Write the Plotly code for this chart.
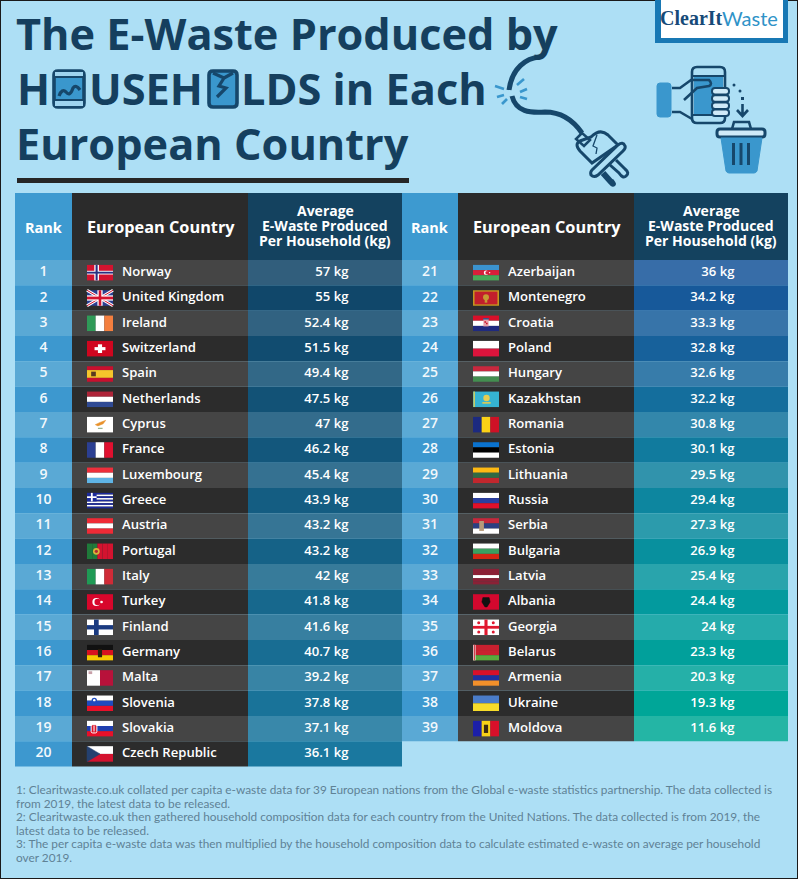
import plotly.graph_objects as go

# ---------- data ----------
RANKS_LEFT = list(range(1, 21))
COUNTRIES_LEFT = ["Norway", "United Kingdom", "Ireland", "Switzerland", "Spain", "Netherlands", "Cyprus",
                  "France", "Luxembourg", "Greece", "Austria", "Portugal", "Italy", "Turkey", "Finland",
                  "Germany", "Malta", "Slovenia", "Slovakia", "Czech Republic"]
VALUES_LEFT = [57, 55, 52.4, 51.5, 49.4, 47.5, 47, 46.2, 45.4, 43.9, 43.2, 43.2, 42, 41.8, 41.6, 40.7,
               39.2, 37.8, 37.1, 36.1]
RANKS_RIGHT = list(range(21, 40))
COUNTRIES_RIGHT = ["Azerbaijan", "Montenegro", "Croatia", "Poland", "Hungary", "Kazakhstan", "Romania",
                   "Estonia", "Lithuania", "Russia", "Serbia", "Bulgaria", "Latvia", "Albania", "Georgia",
                   "Belarus", "Armenia", "Ukraine", "Moldova"]
VALUES_RIGHT = [36, 34.2, 33.3, 32.8, 32.6, 32.2, 30.8, 30.1, 29.5, 29.4, 27.3, 26.9, 25.4, 24.4, 24,
                23.3, 20.3, 19.3, 11.6]
HEADER_RANK = "Rank"
HEADER_COUNTRY = "European Country"
HEADER_VALUE = ["Average", "E-Waste Produced", "Per Household (kg)"]
TITLE_LINE1 = "The E-Waste Produced by"
TITLE_LINE3 = "European Country"
FOOTNOTES = [
    "1: Clearitwaste.co.uk collated per capita e-waste data for 39 European nations from the Global e-waste statistics partnership. The data collected is",
    "from 2019, the latest data to be released.",
    "2: Clearitwaste.co.uk then gathered household composition data for each country from the United Nations. The data collected is from 2019, the",
    "latest data to be released.",
    "3: The per capita e-waste data was then multiplied by the household composition data to calculate estimated e-waste on average per household",
    "over 2019.",
]

# ---------- style ----------
BG = "#addff5"; NAVY = "#153f5e"; ICON = "#16476b"; BLUE = "#3a97cd"
RED = "#d3132f"; WHITE = "#ffffff"; DBLUE = "#2b3f92"; GREEN = "#2f9a58"; YEL = "#f5c52b"
FLAGS = {
    "Norway": ("h", [RED]), "United Kingdom": ("h", [DBLUE]), "Ireland": ("v", ["#2f9a58", WHITE, "#f47f3f"]),
    "Switzerland": ("h", ["#d0061f"]), "Spain": ("h", ["#c8102e", YEL, YEL, "#c8102e"]),
    "Netherlands": ("h", ["#ae2438", WHITE, "#2f4a94"]), "Cyprus": ("h", [WHITE]),
    "France": ("v", [DBLUE, WHITE, "#e0102f"]), "Luxembourg": ("h", ["#ee2f3c", WHITE, "#5fb4e6"]),
    "Greece": ("h", ["#1c2a9c", WHITE] * 4 + ["#1c2a9c"]), "Austria": ("h", ["#ef2b36", WHITE, "#ef2b36"]),
    "Portugal": ("v", ["#1f7a3a", "#1f7a3a", RED, RED, RED]), "Italy": ("v", ["#1f9a55", WHITE, "#cf2b37"]),
    "Turkey": ("h", ["#d8062b"]), "Finland": ("h", [WHITE]), "Germany": ("h", ["#111111", "#d8121f", "#f7c900"]),
    "Malta": ("v", [WHITE, "#b8123a"]), "Slovenia": ("h", [WHITE, "#1f4bc0", "#e8102a"]),
    "Slovakia": ("h", [WHITE, "#1f3fb0", "#e8102a"]), "Czech Republic": ("h", [WHITE, "#d4122f"]),
    "Azerbaijan": ("h", ["#3b93cf", "#d8203a", "#49a858"]), "Montenegro": ("h", ["#c4961f"]),
    "Croatia": ("h", ["#d8102a", WHITE, "#1f2a80"]), "Poland": ("h", [WHITE, "#dc143c"]),
    "Hungary": ("h", ["#c8283e", WHITE, "#438e50"]), "Kazakhstan": ("h", ["#35b3d2"]),
    "Romania": ("v", ["#1c2a80", "#fbd116", "#ce1126"]), "Estonia": ("h", ["#0a72ce", "#000000", WHITE]),
    "Lithuania": ("h", ["#fdb913", "#2f6a44", "#c1272d"]), "Russia": ("h", [WHITE, "#2a3fa0", "#e0102a"]),
    "Serbia": ("h", ["#c6283c", "#2c3f82", WHITE]), "Bulgaria": ("h", [WHITE, "#3aa060", "#d62612"]),
    "Latvia": ("h", ["#8a2136", "#8a2136", WHITE, "#8a2136", "#8a2136"]), "Albania": ("h", ["#d4082e"]),
    "Georgia": ("h", [WHITE]), "Belarus": ("h", ["#c8202f", "#c8202f", "#5aa83c"]),
    "Armenia": ("h", ["#d9102a", "#1f2fa0", "#f2902a"]), "Ukraine": ("h", ["#4a7cc8", "#f7dc2a"]),
    "Moldova": ("v", ["#1c1fa8", "#f7d116", "#d8102a"]),
}

shapes = []

def rect(x0, y0, x1, y1, fill, line=None, lw=0):
    shapes.append(dict(type="rect", xref="x", yref="y", x0=x0, y0=y0, x1=x1, y1=y1, fillcolor=fill, layer="below",
                       line=dict(color=line or fill, width=lw)))

def ell(cx, cy, rx, ry, fill, line=None, lw=0):
    shapes.append(dict(type="circle", xref="x", yref="y", x0=cx - rx, y0=cy - ry, x1=cx + rx, y1=cy + ry,
                       fillcolor=fill, layer="below", line=dict(color=line or fill, width=lw)))

def path(d, color=ICON, lw=2.5, fill="rgba(0,0,0,0)"):
    shapes.append(dict(type="path", xref="x", yref="y", path=d, fillcolor=fill, layer="below",
                       line=dict(color=color, width=lw)))

def rrect(x0, y0, x1, y1, r, color=ICON, lw=2.5, fill="rgba(0,0,0,0)"):
    d = (f"M{x0+r},{y0} L{x1-r},{y0} Q{x1},{y0} {x1},{y0+r} L{x1},{y1-r} Q{x1},{y1} {x1-r},{y1} "
         f"L{x0+r},{y1} Q{x0},{y1} {x0},{y1-r} L{x0},{y0+r} Q{x0},{y0} {x0+r},{y0} Z")
    path(d, color, lw, fill)

def mix(a, b, t):
    ca = [int(a[i:i + 2], 16) for i in (1, 3, 5)]
    cb = [int(b[i:i + 2], 16) for i in (1, 3, 5)]
    return "#%02x%02x%02x" % tuple(round(p + (q - p) * t) for p, q in zip(ca, cb))

def ramp(anchors, t):
    for (t0, c0), (t1, c1) in zip(anchors, anchors[1:]):
        if t <= t1:
            return mix(c0, c1, (t - t0) / (t1 - t0))
    return anchors[-1][1]

VAL_RAMP_L = [(0, "#0f4467"), (1, "#1a789f")]
VAL_RAMP_R = [(0, "#17559a"), (0.17, "#17619b"), (0.45, "#0f829f"), (0.75, "#029c9e"), (1, "#00a996")]

TOP = 260.0; ROW = 25.33
HEAD_TOP = 193
TABLES = [
    dict(x=(15, 72, 248, 402), ranks=RANKS_LEFT, names=COUNTRIES_LEFT, vals=VALUES_LEFT, ramp=VAL_RAMP_L),
    dict(x=(402, 458, 634, 788), ranks=RANKS_RIGHT, names=COUNTRIES_RIGHT, vals=VALUES_RIGHT, ramp=VAL_RAMP_R),
]

def draw_flag(name, x, y):
    W, H = 26, 15.5
    kind, cols = FLAGS[name]
    n = len(cols)
    for i, c in enumerate(cols):
        if kind == "h":
            rect(x, y + H * i / n, x + W, y + H * (i + 1) / n, c)
        else:
            rect(x + W * i / n, y, x + W * (i + 1) / n, y + H, c)
    fx = lambda u: x + W * u
    fy = lambda v: y + H * v
    def fr(u0, v0, u1, v1, c):
        rect(fx(u0), fy(v0), fx(u1), fy(v1), c)
    def fe(u, v, r, c):
        ell(fx(u), fy(v), r, r, c)
    if name == "Norway":
        fr(0.28, 0, 0.46, 1, WHITE); fr(0, 0.38, 1, 0.62, WHITE); fr(0.33, 0, 0.41, 1, "#2a2f80"); fr(0, 0.44, 1, 0.56, "#2a2f80")
    elif name == "United Kingdom":
        path(f"M{x},{y} L{x+W},{y+H} M{x+W},{y} L{x},{y+H}", WHITE, 3)
        path(f"M{x},{y} L{x+W},{y+H} M{x+W},{y} L{x},{y+H}", "#d3132f", 1)
        fr(0.4, 0, 0.6, 1, WHITE); fr(0, 0.33, 1, 0.67, WHITE); fr(0.45, 0, 0.55, 1, "#d3132f"); fr(0, 0.41, 1, 0.59, "#d3132f")
    elif name == "Switzerland":
        fr(0.42, 0.22, 0.58, 0.78, WHITE); fr(0.29, 0.4, 0.71, 0.6, WHITE)
    elif name == "Spain":
        fr(0.16, 0.35, 0.34, 0.65, "#5a3a20")
    elif name == "Cyprus":
        path(f"M{fx(.32)},{fy(.5)} L{fx(.5)},{fy(.36)} L{fx(.72)},{fy(.22)} L{fx(.62)},{fy(.45)} L{fx(.42)},{fy(.58)} Z", "#e8912a", 0.5, "#e8912a")
        fr(0.42, 0.7, 0.6, 0.78, "#9ab58f")
    elif name == "Greece":
        fr(0, 0, 0.37, 0.55, "#1c2a9c"); fr(0.15, 0, 0.22, 0.55, WHITE); fr(0, 0.22, 0.37, 0.33, WHITE)
    elif name == "Portugal":
        fe(0.36, 0.5, 3.4, "#d7b23a"); fe(0.36, 0.5, 1.6, "#b02a30")
    elif name == "Turkey":
        fe(0.36, 0.5, 4, WHITE); fe(0.41, 0.5, 3.2, "#d8062b"); fe(0.56, 0.5, 1.3, WHITE)
    elif name == "Finland":
        fr(0.27, 0, 0.45, 1, "#1a3a80"); fr(0, 0.36, 1, 0.64, "#1a3a80")
    elif name == "Germany":
        fr(0.42, 0.28, 0.58, 0.8, "#2a2210")
    elif name == "Malta":
        fr(0.06, 0.07, 0.2, 0.25, "#c8a0a8")
    elif name == "Slovenia":
        fe(0.28, 0.32, 2.7, "#1f4bc0"); fe(0.28, 0.3, 1.2, WHITE)
    elif name == "Slovakia":
        rrect(fx(.16), fy(.25), fx(.38), fy(.78), 1.5, WHITE, 1, "#d8142a"); fr(0.25, 0.32, 0.29, 0.68, WHITE)
    elif name == "Czech Republic":
        path(f"M{x},{y} L{fx(.5)},{fy(.5)} L{x},{y+H} Z", "#24406f", 0.5, "#24406f")
    elif name == "Azerbaijan":
        fe(0.5, 0.5, 2.2, WHITE); fe(0.54, 0.5, 1.7, "#d8203a"); fe(0.64, 0.5, 0.7, WHITE)
    elif name == "Montenegro":
        fr(0.06, 0.09, 0.94, 0.91, "#c21f2c"); fe(0.5, 0.45, 3, "#c79a33"); fr(0.45, 0.5, 0.55, 0.8, "#c79a33")
    elif name == "Croatia":
        fr(0.4, 0.22, 0.6, 0.7, "#e6a0a8"); fr(0.44, 0.36, 0.5, 0.46, "#c8102a"); fr(0.5, 0.46, 0.56, 0.56, "#c8102a"); fr(0.39, 0.16, 0.61, 0.26, "#35578c")
    elif name == "Kazakhstan":
        fr(0.02, 0, 0.07, 1, "#e9d04a"); fe(0.52, 0.42, 3.2, "#e6cc50"); fr(0.36, 0.68, 0.68, 0.78, "#e6cc50")
    elif name == "Serbia":
        fr(0.24, 0.18, 0.42, 0.82, "#b69a7a")
    elif name == "Albania":
        path(f"M{fx(.38)},{fy(.22)} L{fx(.62)},{fy(.22)} L{fx(.66)},{fy(.5)} L{fx(.54)},{fy(.82)} L{fx(.46)},{fy(.82)} L{fx(.34)},{fy(.5)} Z", "#111111", 0.5, "#111111")
    elif name == "Georgia":
        fr(0.44, 0, 0.56, 1, "#e0182f"); fr(0, 0.41, 1, 0.59, "#e0182f")
        for u, v in [(.22, .2), (.78, .2), (.22, .8), (.78, .8)]:
            fe(u, v, 1.5, "#e0182f")
    elif name == "Belarus":
        fr(0, 0, 0.1, 1, "#e8dede"); fr(0.03, 0, 0.07, 1, "#c8202f")
    elif name == "Moldova":
        fr(0.42, 0.25, 0.58, 0.78, "#3a2a10")

# background + frame
rect(0, 0, 798, 879, BG, "#1a1a1a", 2)
# title rule
rect(17, 178, 409, 183, "#262626")

text_layers = {"rank": ([], [], []), "name": ([], [], []), "val": ([], [], [])}
for tb in TABLES:
    xr, xc, xv, xe = tb["x"]
    rect(xr, HEAD_TOP, xc, TOP, "#3d9ad0")
    rect(xc, HEAD_TOP, xv, TOP, "#2b2b2b")
    rect(xv, HEAD_TOP, xe, TOP, "#14425f")
    n = len(tb["ranks"])
    for i, (rk, nm, vl) in enumerate(zip(tb["ranks"], tb["names"], tb["vals"])):
        y0 = TOP + ROW * i; y1 = y0 + ROW
        odd = rk % 2 == 1
        base = ramp(tb["ramp"], i / (n - 1))
        rect(xr, y0, xc, y1, "#5aa9d5" if odd else "#3d98cf")
        rect(xc, y0, xv, y1, "#454545" if odd else "#2c2c2c")
        rect(xv, y0, xe, y1, mix(base, "#ffffff", 0.14) if odd else base)
        draw_flag(nm, xc + 15, (y0 + y1) / 2 - 7.75)
        ym = (y0 + y1) / 2
        text_layers["rank"][0].append((xr + xc) / 2); text_layers["rank"][1].append(ym); text_layers["rank"][2].append(str(rk))
        text_layers["name"][0].append(xc + 50); text_layers["name"][1].append(ym); text_layers["name"][2].append(nm)
        text_layers["val"][0].append(xv + 100.5); text_layers["val"][1].append(ym); text_layers["val"][2].append(f"{vl:g} kg")

# ---------- icons ----------
# logo
rect(655, 0, 788, 43, "#1878b4")
rect(661, 0, 783, 38, WHITE)
# phones in the title
def phone(x0, x1, y0, y1, cracks, bars=True):
    rrect(x0, y0, x1, y1, 4, ICON, 3.6, BLUE)
    if bars:
        rect(x0 + 1, y0 + 1, x1 - 1, y0 + 5, "#9fd4ef")
        rect(x0 + 1, y1 - 6, x1 - 1, y1 - 1, "#9fd4ef")
        path(f"M{x0},{y0+6} L{x1},{y0+6} M{x0},{y1-7} L{x1},{y1-7}", ICON, 1.8)
    path(cracks, ICON, 3.2)
phone(54, 84, 71, 107, "M59,96 Q62,88 66,92 Q70,97 73,88 Q76,84 80,90")
phone(209, 237, 71, 107, "M213,73 L224,78 L219,86 L226,88 L217,97 M224,78 L233,73", bars=False)
# cable
path("M540,57 C526,58 512,68 509,90", ICON, 5)
path("M512,96 C516,112 530,113 545,112 C560,112 573,120 582,133", ICON, 5)
for d in ["M495,86 L504,89", "M497,97 L504,95", "M502,104 L507,99", "M517,85 L524,79", "M520,92 L527,89", "M520,97 L527,99"]:
    path(d, BLUE, 2.6)
# plug
path("M582,133 L590,140 L584,146 L576,139 Z", ICON, 2.5)
path("M591,137 Q600,128 608,135 L618,145 L592,163 L580,151 Q574,144 580,141 Z", ICON, 3)
path("M597,135 L593,146 L597,148 L596,154", ICON, 1.3)
path("M592,170 L618,145 Q623,141 625,146 Q626,148 623,151 L598,175 Q594,178 591,175 Q590,172 592,170 Z", ICON, 3, BG)
path("M616,160 L625,169 Q630,173 626,176 Q623,179 619,173 L610,165", ICON, 3)
path("M603,173 L611,182 Q615,186 611,181", ICON, 6)
# hand + phone
rrect(657, 83, 671, 117, 3, BLUE, 1, BLUE)
rrect(692, 67, 725, 123, 5, ICON, 2.6)
rect(694, 76, 723, 115, BLUE)
path("M692,76 L725,76 M692,115 L725,115", ICON, 1.8)
path("M672,88 L680,88 L691,80 L709,80 Q713,84 709,86 L697,88 L684,100", ICON, 2.6)
path("M672,112 L680,112 L692,119", ICON, 2.6)
for k in range(4):
    rrect(712, 88 + 7.2 * k, 729, 94.5 + 7.2 * k, 3, ICON, 2, "#cfeaf8")
ell(734, 85, 1.5, 1.5, ICON); ell(740, 91, 1.5, 1.5, ICON); rect(741, 97, 744, 100, ICON)
path("M742.5,104 L742.5,115 M737,110 L742.5,116 L748,110", ICON, 2.6)
# bin
path("M732,129 L734,122 L749,122 L751,129", ICON, 2.6)
rrect(717, 129, 765, 137, 3, ICON, 3, "#cfeaf8")
path("M721,138 L762,138 L757,171 Q756,173 754,173 L729,173 Q727,173 726,171 Z", BLUE, 1, BLUE)
for xb in (733.5, 741, 748.5):
    rect(xb - 1.5, 143, xb + 1.5, 165, ICON)

# ---------- text ----------
FONT = "Open Sans"
ann = []
def txt(x, y, s, size, color=WHITE, anchor="center", family=FONT, bold=False):
    ann.append(dict(x=x, y=y, xref="x", yref="y", text=f"<b>{s}</b>" if bold else s, showarrow=False, xanchor=anchor,
                    yanchor="middle", font=dict(family=family, size=size, color=color), borderpad=0, align=anchor))

TS = 43.3
txt(15, 33, TITLE_LINE1, TS, NAVY, "left", bold=True)
txt(16, 88, "H", TS, NAVY, "left", bold=True)
txt(87.5, 88, "USEH", TS, NAVY, "left", bold=True)
txt(240, 88, "LDS in Each", TS, NAVY, "left", bold=True)
txt(15, 143, TITLE_LINE3, TS, NAVY, "left", bold=True)

txt(724, 18, "ClearIt", 20, "#174a78", "right", "Liberation Serif", True)
txt(721, 18, "Waste", 20, "#2f93c8", "left", "Lato")

for tb in TABLES:
    xr, xc, xv, xe = tb["x"]
    txt((xr + xc) / 2 - 0.5, 227, HEADER_RANK, 14.5, WHITE, bold=True)
    txt((xc + xv) / 2 + 1, 227, HEADER_COUNTRY, 16.3, WHITE, bold=True)
    for ln, yy in zip(HEADER_VALUE, (210, 225, 240.5)):
        txt((xv + xe) / 2, yy, ln, 14, WHITE, bold=True)

for i, line in enumerate(FOOTNOTES):
    txt(15, 789.5 + 13.6 * i, line, 11.85, "#5f8295", "left", "Lato")

tfont = dict(family=FONT, size=13.1, color=WHITE, weight=600)
traces = [
    go.Scatter(x=text_layers["rank"][0], y=text_layers["rank"][1], text=text_layers["rank"][2], mode="text", textposition="middle center", textfont=dict(family=FONT, size=14, color="#f2f8fc", weight=600), hoverinfo="skip"),
    go.Scatter(x=text_layers["name"][0], y=text_layers["name"][1], text=text_layers["name"][2], mode="text", textposition="middle right", textfont=tfont, hoverinfo="skip"),
    go.Scatter(x=text_layers["val"][0], y=text_layers["val"][1], text=text_layers["val"][2], mode="text", textposition="middle left", textfont=tfont, hoverinfo="skip"),
]
fig = go.Figure(traces)
fig.update_layout(width=798, height=879, margin=dict(l=0, r=0, t=0, b=0), showlegend=False, paper_bgcolor=BG, plot_bgcolor=BG,
                  shapes=shapes, annotations=ann,
                  xaxis=dict(range=[0, 798], visible=False, fixedrange=True),
                  yaxis=dict(range=[879, 0], visible=False, fixedrange=True))
fig.write_html("out.html", config=dict(displayModeBar=False), post_script="document.body.style.margin='0';")
